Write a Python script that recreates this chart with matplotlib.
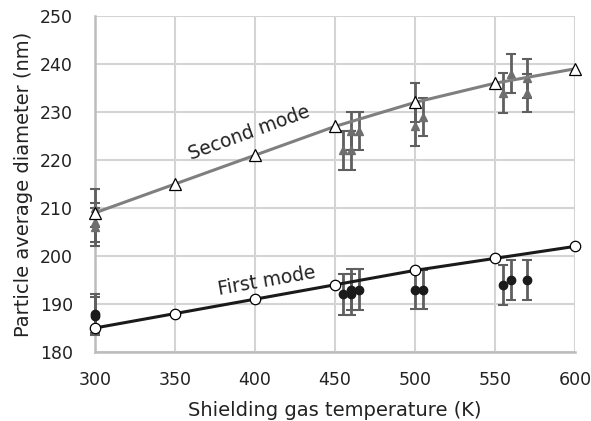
import matplotlib.pyplot as plt

# model curves
model_temp = [300, 350, 400, 450, 500, 550, 600]
model_second = [209, 215, 221, 227, 232, 236, 239]
model_first = [185, 188, 191, 194, 197, 199.5, 202]

# measured points, second mode (triangles)
exp2_temp = [300, 300, 300, 455, 460, 460, 465, 500, 500, 505, 555, 560, 570, 570]
exp2_val = [210, 207, 206, 222, 222, 226, 226, 232, 227, 229, 234, 238, 237, 234]
exp2_err = [4, 4, 4, 4, 4, 4, 4, 4, 4, 4, 4.2, 4.1, 4, 4]

# measured points, first mode (circles)
exp1_temp = [300, 300, 455, 460, 460, 465, 500, 505, 555, 560, 570]
exp1_val = [188, 187.5, 192, 192, 193, 193, 193, 193, 194, 195, 195]
exp1_err = [4, 4, 4.2, 4.2, 4.2, 4.2, 4, 4, 4.2, 4.2, 4.2]

plt.rcParams['font.family'] = 'DejaVu Sans'

fig = plt.figure(figsize=(5.91, 4.21), dpi=100)
ax = fig.add_axes([0.161, 0.164, 0.812, 0.798])

for temp, val, err, fmt, col in [(exp2_temp, exp2_val, exp2_err, '^', '#6e6e6e'),
                                 (exp1_temp, exp1_val, exp1_err, 'o', '#1a1a1a')]:
    cont = ax.errorbar(temp, val, yerr=err, fmt=fmt, color=col,
                       ecolor='#5f5f5f', elinewidth=2, capsize=3.5, capthick=1.5,
                       markersize=6, zorder=3)
    arts = [cont.lines[0]] + list(cont.lines[1]) + list(cont.lines[2])
    for art in arts:
        art.set_clip_on(False)

ax.plot(model_temp, model_second, color='#7f7f7f', lw=2.2, marker='^',
        markersize=8, markerfacecolor='white', markeredgecolor='black',
        markeredgewidth=0.9, zorder=4, clip_on=False)
ax.plot(model_temp, model_first, color='#1a1a1a', lw=2.2, marker='o',
        markersize=7.5, markerfacecolor='white', markeredgecolor='black',
        markeredgewidth=0.9, zorder=4, clip_on=False)

ax.text(396, 225.6, 'Second mode', rotation=20, fontsize=13.5, color='#222222',
        ha='center', va='center')
ax.text(407, 194.7, 'First mode', rotation=10, fontsize=13.5, color='#222222',
        ha='center', va='center')

ax.set_xlim(300, 600)
ax.set_ylim(180, 250)
ax.set_xticks(range(300, 601, 50))
ax.set_yticks(range(180, 251, 10))
ax.grid(True, color='#d4d4d4', lw=1.5)
ax.set_axisbelow(True)
ax.tick_params(length=0, labelsize=12.5, colors='#222222')
ax.tick_params(axis='x', pad=14)
ax.tick_params(axis='y', pad=16)
for side in ['top', 'right']:
    ax.spines[side].set_visible(False)
for side in ['left', 'bottom']:
    ax.spines[side].set_color('#bdbdbd')
    ax.spines[side].set_linewidth(1.8)

ax.set_xlabel('Shielding gas temperature (K)', fontsize=14, color='#222222', labelpad=8)
ax.set_ylabel('Particle average diameter (nm)', fontsize=14, color='#222222', labelpad=5)

fig.savefig('out.png', dpi=100)
